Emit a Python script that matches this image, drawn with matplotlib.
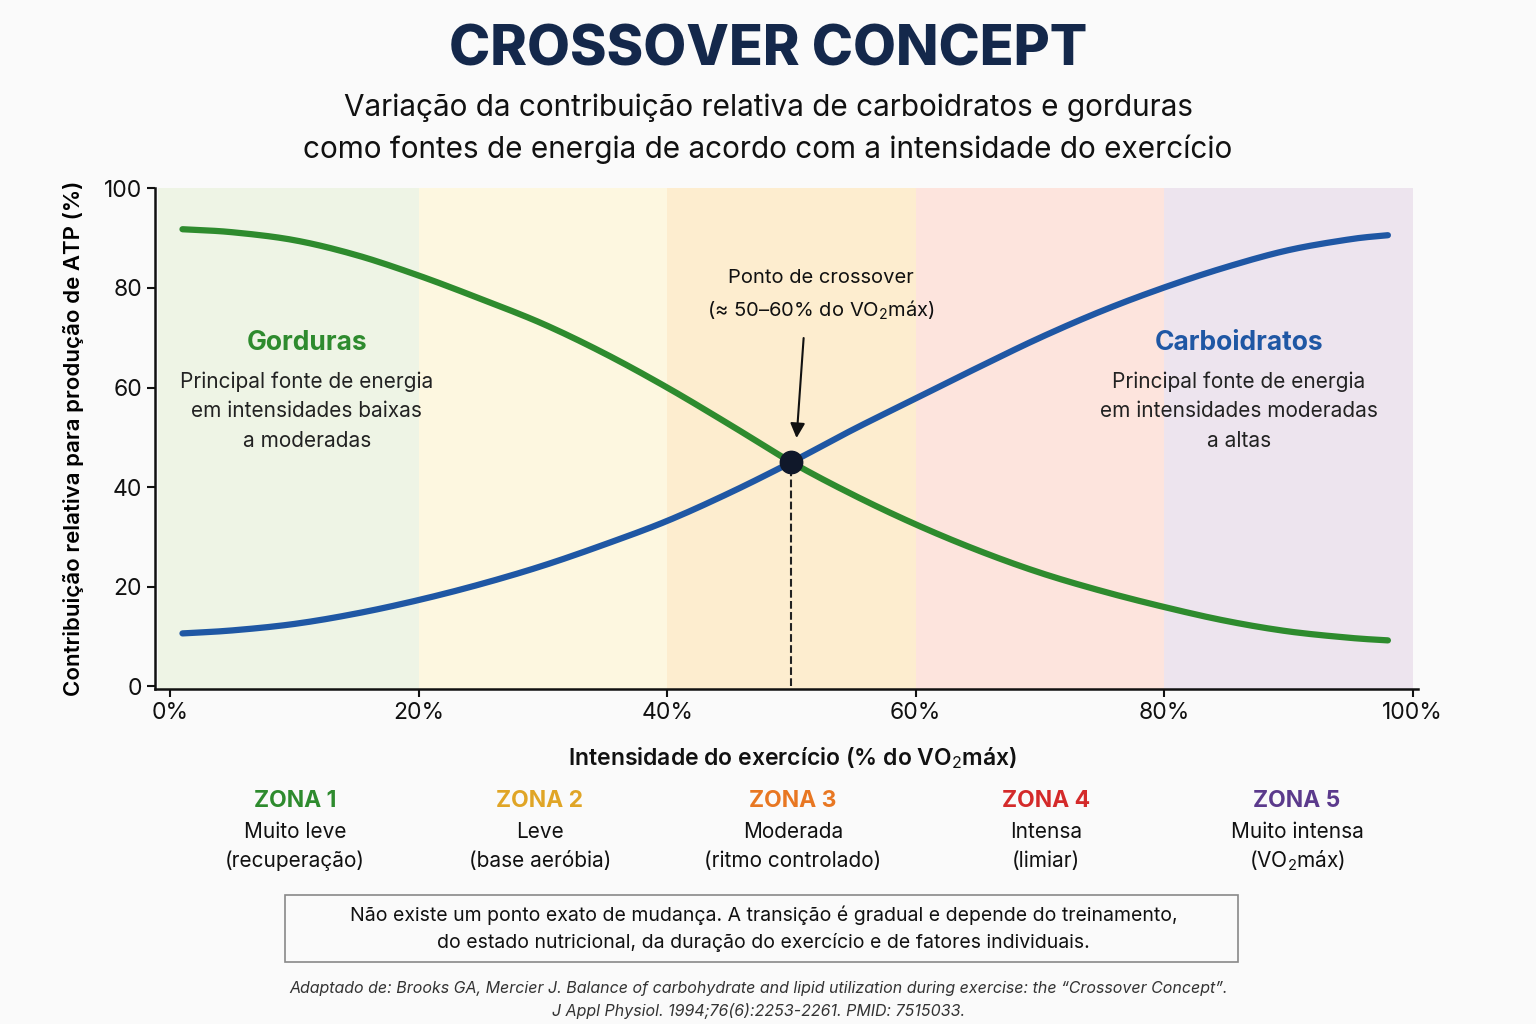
import matplotlib
matplotlib.use("Agg")
import matplotlib.pyplot as plt
import numpy as np
from matplotlib.patches import Rectangle

plt.rcParams['font.family'] = ['Inter', 'DejaVu Sans']
plt.rcParams['mathtext.fontset'] = 'custom'
plt.rcParams['mathtext.rm'] = 'Inter'
plt.rcParams['mathtext.it'] = 'Inter:italic'

intensity = [1, 5, 10, 15, 20, 25, 30, 35, 40, 45, 50, 55, 60, 65, 70, 75, 80, 85, 90, 95, 98]
fat = [91.8, 91.2, 89.6, 86.6, 82.5, 77.8, 72.8, 66.8, 60.0, 52.6, 45, 38.4, 32.5, 27.3, 22.8, 19.1, 15.9, 13.1, 11.0, 9.7, 9.2]
carb = [10.6, 11.2, 12.5, 14.6, 17.3, 20.5, 24.2, 28.5, 33.2, 38.8, 45, 51.6, 57.8, 64.0, 70.0, 75.4, 80.1, 84.2, 87.6, 89.8, 90.6]
zone_edges = [0, 20, 40, 60, 80, 100]
zone_fill = ['#eef4e5', '#fdf7e0', '#fdedcf', '#fde4dd', '#ede4ee']
zone_names = ['ZONA 1', 'ZONA 2', 'ZONA 3', 'ZONA 4', 'ZONA 5']
zone_cols = ['#2e8b2e', '#e0a526', '#e87722', '#d42a2a', '#5b3a8c']
zone_desc1 = ['Muito leve', 'Leve', 'Moderada', 'Intensa', 'Muito intensa']
zone_desc2 = ['(recuperação)', '(base aeróbia)', '(ritmo controlado)', '(limiar)', '(VO$_2$máx)']
xticks = [0, 20, 40, 60, 80, 100]
yticks = [0, 20, 40, 60, 80, 100]

green = '#2e8b2e'
blue = '#1f57a4'
navy = '#14284b'


def smooth(x, y, n=12):
    # Catmull-Rom drawing of the read points
    x = np.asarray(x, float); y = np.asarray(y, float)
    P = np.column_stack([x, y])
    P = np.vstack([2 * P[0] - P[1], P, 2 * P[-1] - P[-2]])
    out = []
    t = np.linspace(0, 1, n, endpoint=False)[:, None]
    for i in range(1, len(P) - 2):
        p0, p1, p2, p3 = P[i - 1], P[i], P[i + 1], P[i + 2]
        out.append(0.5 * ((2 * p1) + (-p0 + p2) * t + (2 * p0 - 5 * p1 + 4 * p2 - p3) * t ** 2
                          + (-p0 + 3 * p1 - 3 * p2 + p3) * t ** 3))
    out.append(P[-2][None, :])
    out = np.vstack(out)
    return out[:, 0], out[:, 1]


fig = plt.figure(figsize=(15.36, 10.24), dpi=100, facecolor='#fafafa')
ax = fig.add_axes([0.101, 0.327, 0.822, 0.489])
ax.set_facecolor('#fafafa')
ax.set_xlim(-1.2, 100.4)
ax.set_ylim(-0.6, 100)

for i in range(5):
    lo = zone_edges[i] if i > 0 else -1.0
    ax.axvspan(lo, zone_edges[i + 1], color=zone_fill[i], lw=0, zorder=0)

ax.plot(*smooth(intensity, fat), color=green, lw=4.5, solid_capstyle='round', zorder=3)
ax.plot(*smooth(intensity, carb), color=blue, lw=4.5, solid_capstyle='round', zorder=3)
ax.plot([50, 50], [0, 45], ls='--', color='#222', lw=1.5, zorder=2)
ax.scatter([50], [45], s=260, color='#10182a', zorder=5)
ax.annotate('', xy=(50.4, 49.3), xytext=(51.0, 70.5),
            arrowprops=dict(arrowstyle='-|>', color='#111', lw=1.5, mutation_scale=22))
ax.text(52.4, 82, 'Ponto de crossover', ha='center', va='center', fontsize=14.5, color='#111')
ax.text(52.4, 75.6, '(≈ 50–60% do VO$_2$máx)', ha='center', va='center', fontsize=14.5, color='#111')

ax.text(11, 69, 'Gorduras', ha='center', va='center', fontsize=19, fontweight='bold', color=green)
for j, t in enumerate(['Principal fonte de energia', 'em intensidades baixas', 'a moderadas']):
    ax.text(11, 61.2 - 6 * j, t, ha='center', va='center', fontsize=15, color='#222')
ax.text(86, 69, 'Carboidratos', ha='center', va='center', fontsize=19, fontweight='bold', color=blue)
for j, t in enumerate(['Principal fonte de energia', 'em intensidades moderadas', 'a altas']):
    ax.text(86, 61.2 - 6 * j, t, ha='center', va='center', fontsize=15, color='#222')

ax.set_xticks(xticks)
ax.set_xticklabels([f'{v}%' for v in xticks])
ax.set_yticks(yticks)
ax.tick_params(labelsize=16.5, length=6, width=1.5, colors='#111')
for s in ['top', 'right']:
    ax.spines[s].set_visible(False)
for s in ['left', 'bottom']:
    ax.spines[s].set_linewidth(1.8)
    ax.spines[s].set_color('#111')
ax.set_ylabel('Contribuição relativa para produção de ATP (%)', fontsize=16, fontweight='semibold', labelpad=14)

fig.text(0.5, 1 - 50 / 1024, 'CROSSOVER CONCEPT', ha='center', va='center', fontsize=40, fontweight='heavy', color=navy)
fig.text(0.5, 1 - 108 / 1024, 'Variação da contribuição relativa de carboidratos e gorduras', ha='center', va='center', fontsize=21.4, color='#111')
fig.text(0.5, 1 - 149 / 1024, 'como fontes de energia de acordo com a intensidade do exercício', ha='center', va='center', fontsize=21.4, color='#111')
fig.text(0.516, 1 - 758 / 1024, 'Intensidade do exercício (% do VO$_2$máx)', ha='center', va='center', fontsize=16.5, fontweight='semibold', color='#111')

zx = [295, 540, 793, 1046, 1297]
for i in range(5):
    x = zx[i] / 1536
    fig.text(x, 1 - 801 / 1024, zone_names[i], ha='center', va='center', fontsize=16.5, fontweight='bold', color=zone_cols[i])
    fig.text(x, 1 - 832 / 1024, zone_desc1[i], ha='center', va='center', fontsize=15, color='#111')
    fig.text(x, 1 - 861 / 1024, zone_desc2[i], ha='center', va='center', fontsize=15, color='#111')

fig.patches.append(Rectangle((285 / 1536, 1 - 962 / 1024), (1238 - 285) / 1536, 67 / 1024,
                             transform=fig.transFigure, fill=False, ec='#888', lw=1.2))
fig.text(0.497, 1 - 915 / 1024, 'Não existe um ponto exato de mudança. A transição é gradual e depende do treinamento,',
         ha='center', va='center', fontsize=14, color='#111')
fig.text(0.497, 1 - 942 / 1024, 'do estado nutricional, da duração do exercício e de fatores individuais.',
         ha='center', va='center', fontsize=14, color='#111')
fig.text(0.494, 1 - 988 / 1024, 'Adaptado de: Brooks GA, Mercier J. Balance of carbohydrate and lipid utilization during exercise: the “Crossover Concept”.',
         ha='center', va='center', fontsize=11.5, style='italic', color='#333')
fig.text(0.494, 1 - 1011 / 1024, 'J Appl Physiol. 1994;76(6):2253-2261. PMID: 7515033.',
         ha='center', va='center', fontsize=11.5, style='italic', color='#333')

fig.savefig('out.png', dpi=100, facecolor=fig.get_facecolor())
